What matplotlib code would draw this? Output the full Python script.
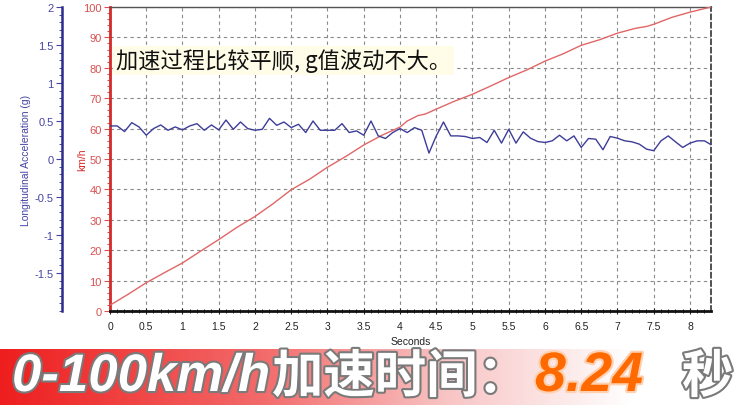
import numpy as np
import matplotlib
matplotlib.use("Agg")
import matplotlib.pyplot as plt
import matplotlib.patheffects as pe
from matplotlib.colors import LinearSegmentedColormap
from matplotlib.ticker import MultipleLocator, FixedLocator

# speed trace (km/h)
speed_t = [0.0, 0.25, 0.5, 0.75, 1.0, 1.25, 1.5, 1.75, 2.0, 2.25, 2.5, 2.75, 3.0,
           3.25, 3.5, 3.75, 4.0, 4.1, 4.25, 4.35, 4.5, 4.75, 5.0, 5.25, 5.5, 5.75,
           6.0, 6.25, 6.5, 6.75, 7.0, 7.25, 7.4, 7.5, 7.75, 8.0, 8.29]
speed_v = [1.9, 5.5, 9.3, 12.6, 15.8, 19.7, 23.5, 27.5, 31.1, 35.3, 39.9, 43.3, 47.3,
           50.8, 54.6, 57.8, 60.5, 62.5, 64.3, 64.8, 66.4, 69.0, 71.3, 74.0, 76.8, 79.3,
           82.2, 84.6, 87.4, 89.2, 91.4, 93.0, 93.6, 94.3, 96.6, 98.3, 100.0]

# longitudinal acceleration (g), sampled every 0.1 s
acc_t = [0.0, 0.1, 0.2, 0.3, 0.4, 0.5, 0.6, 0.7, 0.8, 0.9,
         1.0, 1.1, 1.2, 1.3, 1.4, 1.5, 1.6, 1.7, 1.8, 1.9,
         2.0, 2.1, 2.2, 2.3, 2.4, 2.5, 2.6, 2.7, 2.8, 2.9,
         3.0, 3.1, 3.2, 3.3, 3.4, 3.5, 3.6, 3.7, 3.8, 3.9,
         4.0, 4.1, 4.2, 4.3, 4.4, 4.5, 4.6, 4.7, 4.8, 4.9,
         5.0, 5.1, 5.2, 5.3, 5.4, 5.5, 5.6, 5.7, 5.8, 5.9,
         6.0, 6.1, 6.2, 6.3, 6.4, 6.5, 6.6, 6.7, 6.8, 6.9,
         7.0, 7.1, 7.2, 7.3, 7.4, 7.5, 7.6, 7.7, 7.8, 7.9,
         8.0, 8.1, 8.2, 8.3]
acc_g = [0.435, 0.435, 0.361, 0.478, 0.422, 0.313, 0.400, 0.448, 0.378, 0.422,
         0.383, 0.435, 0.465, 0.378, 0.448, 0.383, 0.513, 0.391, 0.487, 0.400,
         0.378, 0.391, 0.535, 0.443, 0.487, 0.413, 0.457, 0.348, 0.500, 0.378,
         0.378, 0.378, 0.465, 0.348, 0.370, 0.313, 0.500, 0.304, 0.270, 0.348,
         0.400, 0.348, 0.413, 0.378, 0.078, 0.304, 0.487, 0.304, 0.304, 0.296,
         0.270, 0.283, 0.217, 0.378, 0.209, 0.391, 0.209, 0.357, 0.274, 0.230,
         0.217, 0.239, 0.313, 0.239, 0.304, 0.152, 0.270, 0.261, 0.122, 0.296,
         0.274, 0.239, 0.226, 0.196, 0.130, 0.109, 0.239, 0.304, 0.226, 0.152,
         0.209, 0.239, 0.239, 0.183]

x_ticks = [0, 0.5, 1, 1.5, 2, 2.5, 3, 3.5, 4, 4.5, 5, 5.5, 6, 6.5, 7, 7.5, 8]
x_labels = ["0", "0.5", "1", "1.5", "2", "2.5", "3", "3.5", "4", "4.5",
            "5", "5.5", "6", "6.5", "7", "7.5", "8"]
g_ticks = [-1.5, -1, -0.5, 0, 0.5, 1, 1.5, 2]
g_labels = ["-1.5", "-1", "-0.5", "0", "0.5", "1", "1.5", "2"]

note = "加速过程比较平顺, g值波动不大。"
banner_speed = "0-100km/h"
banner_label = "加速时间："
banner_time = "8.24"
banner_unit = "秒"

W, H = 745, 406
fig = plt.figure(figsize=(W / 100, H / 100), dpi=100)
fig.patch.set_facecolor("white")

L, R, T, B = 110, 711, 8, 312
ax = fig.add_axes([L / W, 1 - B / H, (R - L) / W, (B - T) / H])
ax.set_xlim(0, 8.29)
ax.set_ylim(0, 100)

red = "#d42a2a"
red_txt = "#d85050"
blue = "#2c2c8c"
blue_txt = "#4444a4"
tick_font = dict(family="Liberation Sans", size=7.5)

ax.grid(True, color="#8a8a8a", linestyle=(0, (3, 3)), linewidth=0.8)
ax.set_axisbelow(True)
ax.xaxis.set_major_locator(FixedLocator(x_ticks))
ax.set_xticklabels(x_labels, **tick_font)
ax.xaxis.set_minor_locator(MultipleLocator(0.1))
ax.yaxis.set_major_locator(MultipleLocator(10))
ax.yaxis.set_minor_locator(MultipleLocator(2))
for lab in ax.get_yticklabels():
    lab.set_fontfamily("Liberation Sans")
    lab.set_fontsize(8)
ax.tick_params(axis="y", colors=red_txt, length=4, width=0.8, pad=2)
ax.tick_params(axis="y", which="minor", colors=red, length=2)
ax.tick_params(axis="x", colors="#222222", length=4, width=0.8, pad=5, direction="inout")
ax.tick_params(axis="x", which="minor", length=3, direction="inout")
ax.spines["left"].set_color(red)
ax.spines["left"].set_linewidth(2)
ax.spines["bottom"].set_color("#111111")
ax.spines["bottom"].set_linewidth(2)
ax.spines["top"].set_color("#555555")
ax.spines["top"].set_linewidth(1)
ax.spines["right"].set_color("#333333")
ax.spines["right"].set_linestyle((0, (3, 2)))
ax.spines["right"].set_linewidth(1.2)
ax.set_ylabel("km/h", color=red, fontsize=7.5, family="Liberation Sans")
ax.yaxis.set_label_coords(-(L - 87) / (R - L), 0.5)
ax.set_xlabel("Seconds", color="#222222", fontsize=7.5, family="Liberation Sans", labelpad=4)

ax.plot(speed_t, speed_v, color="#e06666", linewidth=1.0, zorder=3)

ax2 = ax.twinx()
ax2.set_ylim(-2, 2)
ax2.yaxis.set_ticks_position("left")
ax2.yaxis.set_label_position("left")
ax2.spines["left"].set_position(("axes", -(L - 62) / (R - L)))
ax2.spines["left"].set_color(blue)
ax2.spines["left"].set_linewidth(1.8)
for s in ["right", "top", "bottom"]:
    ax2.spines[s].set_visible(False)
ax2.yaxis.set_major_locator(FixedLocator(g_ticks))
ax2.set_yticklabels(g_labels, family="Liberation Sans", fontsize=8)
ax2.yaxis.set_minor_locator(MultipleLocator(0.1))
ax2.tick_params(axis="y", colors=blue_txt, length=4, width=0.8, pad=2)
ax2.tick_params(axis="y", which="minor", colors=blue, length=2)
ax2.set_ylabel("Longitudinal Acceleration (g)", color=blue_txt, fontsize=7.5,
               family="Liberation Sans")
ax2.yaxis.set_label_coords(-(L - 31) / (R - L), 0.5)
ax2.plot(acc_t, acc_g, color="#3d3d99", linewidth=1.0, zorder=4)

ax.text(0.08, 82.5, note, fontsize=16, color="#111111", va="center", ha="left",
        family=["Noto Sans CJK SC", "DejaVu Sans"], zorder=6,
        bbox=dict(boxstyle="square,pad=0.12", facecolor="#fffce8", edgecolor="none"))

# banner at the bottom
bax = fig.add_axes([0, 0, 1, 56 / H])
cmap = LinearSegmentedColormap.from_list(
    "banner", [(0, "#ee1e1e"), (0.35, "#f36a6a"), (0.6, "#f8c4c4"), (0.85, "#ffffff"), (1, "#ffffff")])
bax.imshow(np.linspace(0, 1, 256)[None, :], aspect="auto", cmap=cmap, extent=[0, W, 0, 56])
bax.set_xlim(0, W)
bax.set_ylim(0, 56)
bax.axis("off")

stroke = [pe.withStroke(linewidth=3, foreground="#7a7a7a")]
bax.text(12, 28, banner_speed, fontsize=38, color="white", fontweight="bold", style="italic",
         family="Liberation Sans", va="center", ha="left", path_effects=stroke)
bax.text(272, 28, banner_label, fontsize=37, color="white", fontweight="bold",
         family="Noto Sans CJK SC", va="center", ha="left", path_effects=stroke)
bax.text(535, 28, banner_time, fontsize=40, color="#ff6a00", fontweight="bold", style="italic",
         family="Liberation Sans", va="center", ha="left",
         path_effects=[pe.withStroke(linewidth=3, foreground="#ffd0b0")])
bax.text(682, 28, banner_unit, fontsize=37, color="white", fontweight="bold",
         family="Noto Sans CJK SC", va="center", ha="left", path_effects=stroke)

fig.savefig("out.png", dpi=100)
